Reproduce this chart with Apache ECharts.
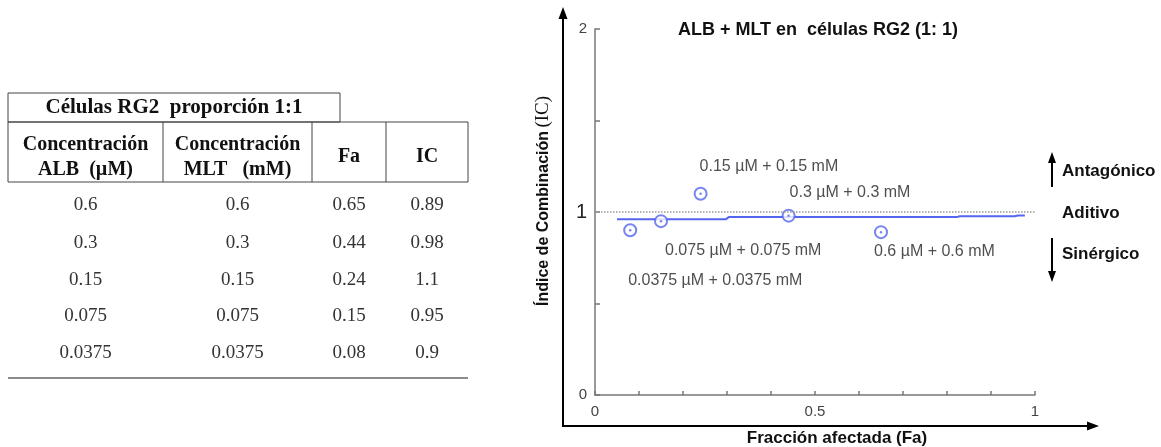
<!DOCTYPE html>
<html><head><meta charset="utf-8">
<script src="https://cdn.jsdelivr.net/npm/echarts@6.0.0/dist/echarts.min.js"></script>
<style>html,body{margin:0;padding:0;background:#fff}#c{width:1161px;height:447px}</style>
</head><body><div id="c"></div>
<script>
// ---- data ----
const tableTitle = 'Células RG2  proporción 1:1';
const headerLine1 = ['Concentración', 'Concentración', 'Fa', 'IC'];
const headerLine2 = ['ALB  (µM)', 'MLT   (mM)', '', ''];
const albConc = [0.6, 0.3, 0.15, 0.075, 0.0375];
const mltConc = [0.6, 0.3, 0.15, 0.075, 0.0375];
const faValues = [0.65, 0.44, 0.24, 0.15, 0.08];
const icValues = [0.89, 0.98, 1.1, 0.95, 0.9];
// median-effect fitted curve
const fitFa = [0.05, 0.297, 0.304, 0.822, 0.829, 0.954, 0.961, 0.977];
const fitIC = [0.960, 0.960, 0.972, 0.972, 0.977, 0.977, 0.981, 0.981];
const xTickLabels = [0, 0.5, 1];
const yTickLabels = [0, 1, 2];
const additiveLevel = 1;
const chartTitle = 'ALB + MLT en  células RG2 (1: 1)';
const xAxisTitle = 'Fracción afectada (Fa)';
const yAxisTitleMain = 'Índice de Combinación';
const yAxisTitleUnit = '(IC)';
const effectLabels = ['Antagónico', 'Aditivo', 'Sinérgico'];

// ---- styling ----
const blue = '#5566ee';
const labelOffsets = [[-7, 19], [1, -23], [-1, -27], [4, 29], [-2, 50]];

const chart = echarts.init(document.getElementById('c'), null, {renderer: 'canvas'});

const pointData = faValues.map((fa, i) => ({
  value: [fa, icValues[i]],
  label: {offset: labelOffsets[i]},
  name: albConc[i] + ' µM + ' + mltConc[i] + ' mM'
}));
const fitData = fitFa.map((f, i) => [f, fitIC[i]]);

// table graphic
const colCenters = [85.5, 237.5, 349, 427];
const rowY = [205, 243, 280, 316, 353];
const serifBold = "bold 20px 'Liberation Serif'";
const serif = "19px 'Liberation Serif'";
const g = [];
g.push({type: 'rect', shape: {x: 8, y: 93, width: 332, height: 29}, style: {fill: 'none', stroke: '#444', lineWidth: 1}});
g.push({type: 'rect', shape: {x: 8, y: 122, width: 460, height: 60}, style: {fill: 'none', stroke: '#444', lineWidth: 1}});
[163, 312, 386].forEach(x => g.push({type: 'line', shape: {x1: x, y1: 122, x2: x, y2: 182}, style: {stroke: '#444', lineWidth: 1}}));
g.push({type: 'line', shape: {x1: 8, y1: 378, x2: 468, y2: 378}, style: {stroke: '#666', lineWidth: 1.5}});
g.push({type: 'text', x: 174, y: 108, style: {text: tableTitle, font: "bold 21px 'Liberation Serif'", fill: '#111', textAlign: 'center', textVerticalAlign: 'middle'}});
headerLine1.forEach((h, i) => {
  if (headerLine2[i]) {
    g.push({type: 'text', x: colCenters[i], y: 145, style: {text: h, font: serifBold, fill: '#111', textAlign: 'center', textVerticalAlign: 'middle'}});
    g.push({type: 'text', x: colCenters[i], y: 170, style: {text: headerLine2[i], font: serifBold, fill: '#111', textAlign: 'center', textVerticalAlign: 'middle'}});
  } else {
    g.push({type: 'text', x: colCenters[i], y: 157, style: {text: h, font: serifBold, fill: '#111', textAlign: 'center', textVerticalAlign: 'middle'}});
  }
});
albConc.forEach((a, r) => {
  [a, mltConc[r], faValues[r], icValues[r]].forEach((v, c) => {
    g.push({type: 'text', x: colCenters[c], y: rowY[r], style: {text: String(v), font: serif, fill: '#333', textAlign: 'center', textVerticalAlign: 'middle'}});
  });
});
// outer arrows
g.push({type: 'line', shape: {x1: 563, y1: 426, x2: 563, y2: 17}, style: {stroke: '#000', lineWidth: 2}});
g.push({type: 'polygon', shape: {points: [[563, 7], [558.5, 19], [567.5, 19]]}, style: {fill: '#000'}});
g.push({type: 'line', shape: {x1: 562, y1: 426, x2: 1088, y2: 426}, style: {stroke: '#000', lineWidth: 2}});
g.push({type: 'polygon', shape: {points: [[1099, 426], [1087, 421.5], [1087, 430.5]]}, style: {fill: '#000'}});
// chart title
g.push({type: 'text', x: 818, y: 30, style: {text: chartTitle, font: "bold 18px 'Liberation Sans'", fill: '#111', textAlign: 'center', textVerticalAlign: 'middle'}});
// effect annotations
const effY = [171, 213, 254];
effectLabels.forEach((t, i) => g.push({type: 'text', x: 1062, y: effY[i], style: {text: t, font: "bold 17px 'Liberation Sans'", fill: '#111', textAlign: 'left', textVerticalAlign: 'middle'}}));
g.push({type: 'line', shape: {x1: 1052, y1: 187, x2: 1052, y2: 160}, style: {stroke: '#000', lineWidth: 2}});
g.push({type: 'polygon', shape: {points: [[1052, 152], [1048, 163], [1056, 163]]}, style: {fill: '#000'}});
g.push({type: 'line', shape: {x1: 1052, y1: 238, x2: 1052, y2: 273}, style: {stroke: '#000', lineWidth: 2}});
g.push({type: 'polygon', shape: {points: [[1052, 282], [1048, 271], [1056, 271]]}, style: {fill: '#000'}});

const option = {
  animation: false,
  backgroundColor: '#fff',
  grid: {left: 595, right: 126, top: 29, bottom: 52, containLabel: false, outerBoundsMode: 'none'},
  xAxis: {
    type: 'value', min: 0, max: 1, interval: 0.1,
    name: xAxisTitle, nameLocation: 'middle', nameGap: 35,
    nameTextStyle: {fontFamily: 'Liberation Sans', fontWeight: 'bold', fontSize: 17, color: '#111', padding: [0, 0, 0, 44]},
    axisLine: {lineStyle: {color: '#777', width: 1.5}},
    axisTick: {inside: true, length: 4, lineStyle: {color: '#777', width: 1.5}},
    splitLine: {show: false},
    axisLabel: {
      margin: 9, color: '#444', fontFamily: 'Liberation Sans', fontSize: 15,
      formatter: v => xTickLabels.some(t => Math.abs(t - v) < 1e-6) ? String(+v.toFixed(2)) : ''
    }
  },
  yAxis: {
    type: 'value', min: 0, max: 2, interval: 0.5,
    name: '{m|' + yAxisTitleMain + '} {u|' + yAxisTitleUnit + '}',
    nameLocation: 'middle', nameRotate: 90, nameGap: 42,
    nameTextStyle: {
      padding: [0, 0, 0, 22],
      rich: {
        m: {fontFamily: 'Liberation Sans', fontWeight: 'bold', fontSize: 16, color: '#111'},
        u: {fontFamily: 'Liberation Serif', fontSize: 19, color: '#111'}
      }
    },
    axisLine: {show: true, lineStyle: {color: '#777', width: 1.5}},
    axisTick: {show: true, inside: true, length: 5, lineStyle: {color: '#777', width: 1.5}},
    splitLine: {show: false},
    axisLabel: {
      margin: 8,
      formatter: v => {
        if (!yTickLabels.some(t => Math.abs(t - v) < 1e-6)) return '';
        return Math.abs(v - 1) < 1e-6 ? '{b|1}' : '{s|' + Math.round(v) + '}';
      },
      rich: {
        b: {fontFamily: 'Liberation Sans', fontSize: 20, color: '#222'},
        s: {fontFamily: 'Liberation Sans', fontSize: 15, color: '#444'}
      }
    }
  },
  series: [
    {
      type: 'line', data: fitData, showSymbol: false, silent: true,
      lineStyle: {color: blue, width: 2}, z: 2,
      markLine: {
        silent: true, symbol: 'none', label: {show: false},
        lineStyle: {type: 'dotted', color: '#999', width: 1.5},
        data: [{yAxis: additiveLevel}]
      }
    },
    {
      type: 'scatter', data: pointData, symbol: 'emptyCircle', symbolSize: 12,
      itemStyle: {color: blue, borderColor: blue, borderWidth: 1.8}, z: 3,
      label: {
        show: true, position: 'inside', align: 'left', verticalAlign: 'middle',
        formatter: p => p.name, fontFamily: 'Liberation Sans', fontSize: 16, color: '#222'
      }
    },
    {
      type: 'scatter', data: faValues.map((f, i) => [f, icValues[i]]), symbol: 'circle', symbolSize: 2.5,
      itemStyle: {color: blue}, silent: true, z: 4
    }
  ],
  graphic: g
};
chart.setOption(option);
</script>
</body></html>
